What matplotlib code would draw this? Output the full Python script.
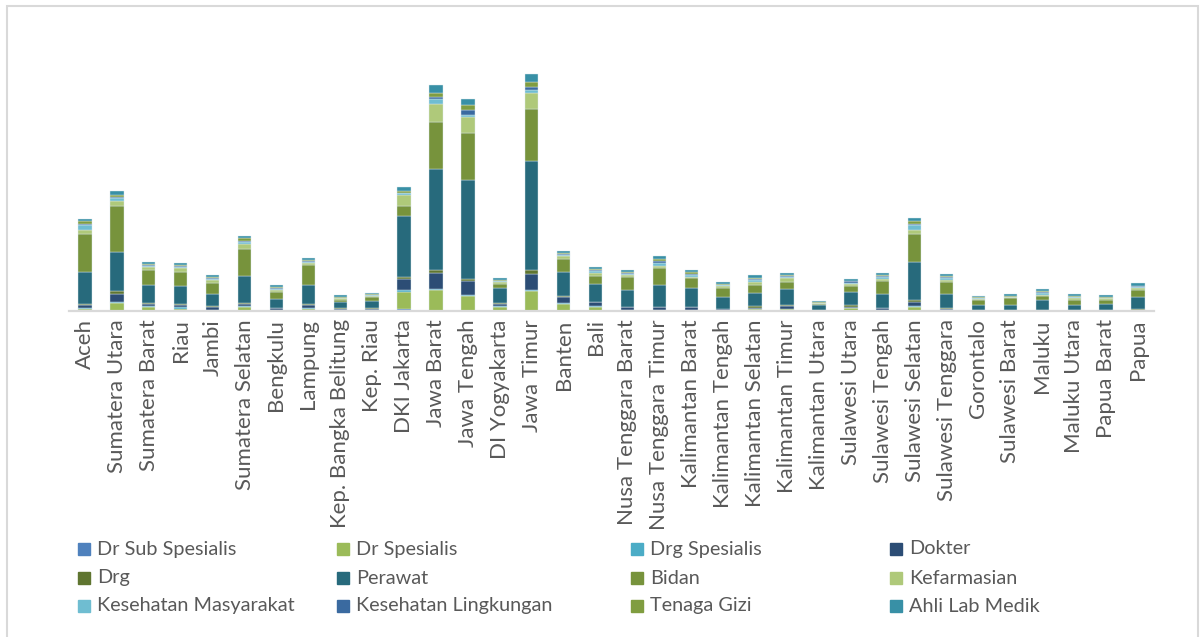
import matplotlib
matplotlib.use("Agg")
import matplotlib.pyplot as plt
import numpy as np
from matplotlib.patches import Rectangle

plt.rcParams['font.family'] = ['Lato', 'DejaVu Sans']

provinces = ['Aceh', 'Sumatera Utara', 'Sumatera Barat', 'Riau', 'Jambi', 'Sumatera Selatan',
             'Bengkulu', 'Lampung', 'Kep. Bangka Belitung', 'Kep. Riau', 'DKI Jakarta',
             'Jawa Barat', 'Jawa Tengah', 'DI Yogyakarta', 'Jawa Timur', 'Banten', 'Bali',
             'Nusa Tenggara Barat', 'Nusa Tenggara Timur', 'Kalimantan Barat',
             'Kalimantan Tengah', 'Kalimantan Selatan', 'Kalimantan Timur', 'Kalimantan Utara',
             'Sulawesi Utara', 'Sulawesi Tengah', 'Sulawesi Selatan', 'Sulawesi Tenggara',
             'Gorontalo', 'Sulawesi Barat', 'Maluku', 'Maluku Utara', 'Papua Barat', 'Papua']

# jumlah tenaga kesehatan (ratusan orang)
dr_sub_spesialis = [0.5, 0.5, 0.3, 0.3, 0.3, 0.3, 0.2, 0.3, 0.1, 0.1, 2, 0.5, 0.5, 0.3, 0.5, 0.3, 0.3,
                    0.2, 0.2, 0.2, 0.1, 0.2, 0.2, 0.05, 0.2, 0.2, 0.5, 0.2, 0.1, 0.05, 0.1, 0.05, 0.05, 0.1]
dr_spesialis = [2, 8, 4, 2, 0.5, 4, 0.5, 2, 0.5, 0.5, 17, 21, 15, 4, 20, 7, 4,
                0.5, 0.5, 0.5, 0.3, 2, 2, 0.2, 3, 0.5, 4, 0.3, 0.2, 0.2, 0.3, 0.2, 0.2, 0.3]
drg_spesialis = [0.5, 0.5, 0.3, 2, 0.3, 0.3, 0.2, 0.3, 0.1, 0.1, 2, 1, 1, 0.5, 0.5, 0.3, 0.3,
                 0.2, 0.2, 0.2, 0.1, 0.2, 0.2, 0.05, 0.2, 0.2, 0.5, 0.2, 0.1, 0.05, 0.1, 0.05, 0.05, 0.1]
dokter = [3, 8, 2, 2, 3, 2, 2, 3, 1.5, 1, 11, 16, 14, 2, 16, 6, 4,
          3, 3, 3, 1.5, 1, 3, 0.5, 1, 2, 4, 1, 0.5, 0.3, 0.5, 0.3, 0.3, 1]
drg = [1, 3, 1, 1, 0.5, 1, 0.5, 1, 0.5, 1.5, 2, 3, 2, 1, 4, 1, 0.5,
       0.5, 0.5, 0.5, 0.5, 2, 0.5, 0.2, 2, 0.5, 2, 1, 0.3, 0.2, 0.3, 0.2, 0.2, 1]
perawat = [32, 39, 18, 18, 12.5, 27, 9, 19, 6, 7, 61, 101, 99, 15, 109, 24, 18,
           17, 22, 19, 12, 13, 16, 5, 13, 14, 38, 14, 5, 5, 10, 5, 6, 12]
bidan = [38, 46, 15, 14, 11, 27, 7, 20, 2, 3.5, 10, 47, 47, 4, 52, 13, 8,
         13, 17, 10, 9, 8, 7, 1, 6, 13, 28, 12, 5, 7, 4, 5, 4, 7]
kefarmasian = [4, 5, 3, 4, 3, 5, 2, 2, 2, 1.5, 11, 18, 16, 2, 16, 3, 3,
               2, 2, 1, 1.5, 3, 4, 1, 2, 2, 4, 2, 1, 1, 1, 2, 2, 2]
kesehatan_masyarakat = [5, 3, 1, 1, 1, 2, 1, 1, 0.5, 0.5, 2, 5, 2, 1, 3, 1, 2,
                        1, 3, 2, 1, 2, 1, 0.3, 1, 2, 5, 2, 1, 0.3, 2, 1, 0.5, 1]
kesehatan_lingkungan = [1, 1, 1, 0.5, 0.5, 1, 0.3, 1, 0.3, 0.3, 0.5, 2, 5, 0.5, 3, 1, 0.5,
                        1, 2, 0.5, 0.3, 0.5, 1, 0.2, 1.5, 0.5, 1, 1, 0.2, 0.2, 1, 0.2, 0.2, 0.3]
tenaga_gizi = [3, 2, 1, 1, 1, 3, 1, 1, 1, 1, 2, 4, 5, 1, 5, 1, 1,
               0.5, 2, 2, 1, 1, 1, 0.5, 0.5, 1, 3, 1, 1, 1, 0.3, 1, 1, 0.5]
ahli_lab_medik = [2, 4, 2, 2, 2, 2, 2, 2, 1.5, 1.5, 4, 8, 6, 2, 8, 2, 2,
                  2, 3, 2, 1.5, 3, 2, 1, 2, 2, 3, 2, 1, 2, 2, 2, 2, 3]

series = [
    ('Dr Sub Spesialis', dr_sub_spesialis, '#4f81bd'),
    ('Dr Spesialis', dr_spesialis, '#9bbb59'),
    ('Drg Spesialis', drg_spesialis, '#4bacc6'),
    ('Dokter', dokter, '#2c4d75'),
    ('Drg', drg, '#5f7530'),
    ('Perawat', perawat, '#276a7c'),
    ('Bidan', bidan, '#77933c'),
    ('Kefarmasian', kefarmasian, '#afc97a'),
    ('Kesehatan Masyarakat', kesehatan_masyarakat, '#6fbdd1'),
    ('Kesehatan Lingkungan', kesehatan_lingkungan, '#3a6aa0'),
    ('Tenaga Gizi', tenaga_gizi, '#809d40'),
    ('Ahli Lab Medik', ahli_lab_medik, '#3890a6'),
]

fig = plt.figure(figsize=(12, 6.37), dpi=100)
ax = fig.add_axes([69 / 1200, 1 - 311 / 637, (1154 - 69) / 1200, 250 / 637])

x = np.arange(len(provinces))
bottom = np.zeros(len(provinces))
for name, vals, col in series:
    vals = np.array(vals, dtype=float)
    ax.bar(x, vals, 0.42, bottom=bottom, color=col, edgecolor='#dce8ec', linewidth=0.3, label=name)
    bottom += vals

ax.set_xlim(-0.5, len(provinces) - 0.5)
ax.set_ylim(0, 250)
ax.set_yticks([])
ax.set_xticks(x)
ax.set_xticklabels(provinces, rotation=90, fontsize=16, color='#595959')
ax.tick_params(axis='x', length=0, pad=6)
for s in ['top', 'right', 'left']:
    ax.spines[s].set_visible(False)
ax.spines['bottom'].set_color('#d9d9d9')
ax.spines['bottom'].set_linewidth(1.6)

# legenda manual, 4 kolom x 3 baris
col_x = [78, 337, 631, 890]
row_y = [549, 578, 606]
for i, (name, vals, col) in enumerate(series):
    cx = col_x[i % 4]
    cy = row_y[i // 4]
    fig.patches.append(Rectangle((cx / 1200, 1 - (cy + 6) / 637), 12 / 1200, 12 / 637,
                                 transform=fig.transFigure, color=col))
    fig.text((cx + 19) / 1200, 1 - cy / 637, name, fontsize=14.3, color='#595959',
             va='center', ha='left')

# bingkai
fig.patches.append(Rectangle((7 / 1200, -0.02), (1198 - 7) / 1200, 1.02 - 6 / 637,
                             transform=fig.transFigure, fill=False, edgecolor='#d9d9d9', linewidth=1.5))

fig.savefig('out.png', dpi=100)
